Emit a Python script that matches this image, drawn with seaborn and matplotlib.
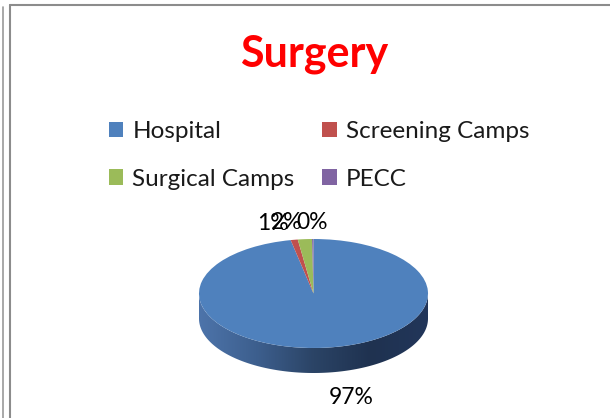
import numpy as np
import matplotlib
matplotlib.use("Agg")
import matplotlib.pyplot as plt
import seaborn as sns
from matplotlib.patches import Polygon
from matplotlib.lines import Line2D
from matplotlib.colors import LinearSegmentedColormap

sns.set_style("white")
plt.rcParams['font.family'] = ['Lato', 'DejaVu Sans']

# data
categories = ["Hospital", "Screening Camps", "Surgical Camps", "PECC"]
shares = [97.0, 1.0, 2.0, 0.2]
colors = ["#4f81bd", "#c0504d", "#9bbb59", "#8064a2"]
title = "Surgery"

fig = plt.figure(figsize=(6.1, 4.18), dpi=100)
ax = fig.add_axes([0, 0, 1, 1])

# squashed axes so the pie looks tilted
rx, ry = 114.5, 54.5
cx, cy = 313.5, 293.5
depth = 25 / ry

wedges, texts, autotexts = ax.pie(
    shares, colors=colors, startangle=90, counterclock=False,
    autopct='%1.0f%%', pctdistance=1.3, radius=1,
    wedgeprops=dict(linewidth=0), textprops=dict(fontsize=16.5, color='#000000'))
for w in wedges:
    w.set_zorder(3)
ax.set_aspect('auto')
ax.axis('off')

# labels: bottom one goes under the side band, small top ones lean left
for t in autotexts:
    x, y = t.get_position()
    if y < 0:
        t.set_position((x + 0.2, y - depth - 0.15))
    elif x < -0.05:
        t.set_horizontalalignment('right')

# side band of the 3D pie with a left-to-right shading
th = np.linspace(np.pi, 2 * np.pi, 200)
top = np.column_stack([np.cos(th), np.sin(th)])
bot = np.column_stack([np.cos(th[::-1]), np.sin(th[::-1]) - depth])
band = Polygon(np.vstack([top, bot]), closed=True, facecolor='none',
               edgecolor='none', zorder=2)
ax.add_patch(band)
shade = LinearSegmentedColormap.from_list(
    "side", ["#4d74aa", "#3d5f8e", "#2b4466", "#1f3250", "#22365a"])
grad = np.linspace(0, 1, 256).reshape(1, -1)
img = ax.imshow(grad, cmap=shade, extent=[-1, 1, -1 - depth, 0],
                aspect='auto', zorder=2)
img.set_clip_path(band)
ax.set_xlim(-cx / rx, (610 - cx) / rx)
ax.set_ylim(-(418 - cy) / ry, cy / ry)

fig.text(314 / 610, 1 - 67 / 418, title, color='#ff0000', fontsize=31,
         fontweight='bold', ha='center', va='baseline')

order = [0, 2, 1, 3]
leg = fig.legend([wedges[i] for i in order], [categories[i] for i in order],
                 ncol=2, loc='upper left', bbox_to_anchor=(87 / 610, 1 - 99 / 418),
                 frameon=False, fontsize=17.5, handlelength=0.6, handleheight=0.6,
                 handletextpad=0.37, columnspacing=1.13, labelspacing=1.1)
for t in leg.get_texts():
    t.set_color('#1a1a1a')

# chart borders
fig.add_artist(Line2D([9.5 / 610, 9.5 / 610], [0, 1 - 4.5 / 418],
                      transform=fig.transFigure, color='#8c8c8c', lw=1.5))
fig.add_artist(Line2D([9.5 / 610, 1], [1 - 4.5 / 418, 1 - 4.5 / 418],
                      transform=fig.transFigure, color='#8c8c8c', lw=1.5))
fig.add_artist(Line2D([2.5 / 610, 2.5 / 610], [0, 1 - 7 / 418],
                      transform=fig.transFigure, color='#9a9a9a', lw=1.2))

fig.savefig("out.png", dpi=100, facecolor='white')
